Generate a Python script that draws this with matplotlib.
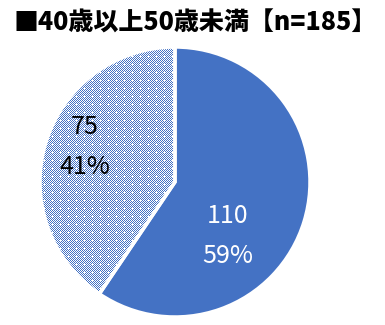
import numpy as np
import matplotlib
matplotlib.use("Agg")
import matplotlib.pyplot as plt

title = "■40歳以上50歳未満【n=185】"
counts = [110, 75]
percents = ["59%", "41%"]
text_colors = ["white", "black"]
label_pos = [(0.393, -0.40), (-0.667, 0.256)]

BLUE = "#4472C4"
plt.rcParams["font.family"] = ["Noto Sans CJK JP", "DejaVu Sans"]

W, H = 385, 325
fig = plt.figure(figsize=(W / 100, H / 100), dpi=100)
cx, cy, r = 175, 325 - 182, 135
ax = fig.add_axes([(cx - r) / W, (cy - r) / H, 2 * r / W, 2 * r / H])

wedges, _ = ax.pie(counts, startangle=90, counterclock=False,
                   colors=[BLUE, "white"],
                   wedgeprops=dict(edgecolor="white", linewidth=2.5))
ax.set_xlim(-1, 1)
ax.set_ylim(-1, 1)
ax.set_aspect("equal")
ax.axis("off")

# checkered fill for the second slice, pixel aligned to the figure
i, j = np.mgrid[0:H, 0:W]
tex = ((i + j) % 2 == 0)
tex &= ~((i % 8 == 4) & (j % 8 == 4))
rgba = np.ones((H, W, 4))
rgba[tex, :3] = matplotlib.colors.to_rgb(BLUE)
fim = fig.figimage(rgba, xo=0, yo=0, origin="lower", zorder=-1)
fim.set_clip_path(wedges[1])
wedges[1].set_facecolor("none")

for k in range(len(counts)):
    ax.text(label_pos[k][0], label_pos[k][1], f"{counts[k]}\n{percents[k]}",
            ha="center", va="center", fontsize=18, color=text_colors[k],
            linespacing=1.7, zorder=3)

fig.text(14 / W, 1 - 23 / H, title, ha="left", va="center",
         fontsize=18, fontweight="heavy", color="black")

fig.savefig("out.png", dpi=100)
